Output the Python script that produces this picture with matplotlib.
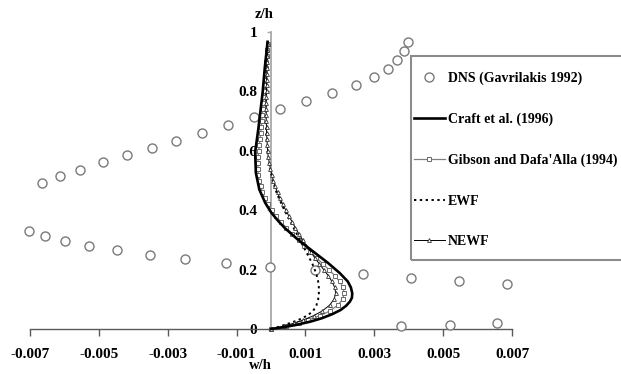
import matplotlib
matplotlib.use("Agg")
import matplotlib.pyplot as plt
from matplotlib.patches import Rectangle
import numpy as np

plt.rcParams['font.family'] = ['Liberation Serif', 'DejaVu Serif']
plt.rcParams['font.weight'] = 'bold'

# DNS data (Gavrilakis 1992): w/h (x1e-3) and z/h
dns_w = [-7.02, -6.57, -5.97, -5.28, -4.48, -3.52, -2.49, -1.31, -0.04, 1.29, 2.66, 4.07, 5.46, 6.85,
         3.77, 5.19, 6.55,
         -6.66, -6.13, -5.54, -4.87, -4.18, -3.47, -2.75, -1.99, -1.24, -0.50, 0.27, 1.02, 1.77, 2.47,
         3.00, 3.39, 3.66, 3.85, 3.97]
dns_z = [0.331, 0.312, 0.296, 0.280, 0.265, 0.249, 0.236, 0.221, 0.210, 0.197, 0.185, 0.171, 0.162, 0.151,
         0.011, 0.013, 0.019,
         0.492, 0.515, 0.535, 0.561, 0.586, 0.609, 0.634, 0.659, 0.686, 0.713, 0.740, 0.767, 0.794, 0.821,
         0.850, 0.877, 0.906, 0.936, 0.965]

# Craft et al. (1996)
craft_z = [0.0, 0.005, 0.013, 0.025, 0.036, 0.05, 0.064, 0.078, 0.092, 0.105, 0.12, 0.14, 0.16, 0.188,
           0.222, 0.256, 0.30, 0.34, 0.365, 0.39, 0.425, 0.47, 0.526, 0.596, 0.672, 0.74, 0.80, 0.88, 0.967]
craft_w = [0.0, 0.30, 0.70, 1.15, 1.47, 1.78, 2.02, 2.18, 2.29, 2.35, 2.36, 2.32, 2.23, 2.00,
           1.66, 1.28, 0.79, 0.40, 0.20, 0.02, -0.17, -0.34, -0.44, -0.46, -0.37, -0.30, -0.24, -0.18, -0.10]

# common grid for the other model profiles
model_z = [0.0, 0.01, 0.02, 0.03, 0.045, 0.06, 0.08, 0.10, 0.12, 0.14, 0.16, 0.18, 0.20, 0.22, 0.24,
           0.26, 0.28, 0.30, 0.32, 0.34, 0.36, 0.38, 0.40, 0.42, 0.44, 0.46, 0.48, 0.50, 0.52, 0.54,
           0.56, 0.58, 0.60, 0.62, 0.64, 0.66, 0.68, 0.70, 0.72, 0.74, 0.76, 0.78, 0.80, 0.82, 0.84,
           0.86, 0.88, 0.90, 0.92, 0.94, 0.96]

gibson_w = [0.0, 0.45, 0.80, 1.08, 1.42, 1.70, 1.94, 2.08, 2.13, 2.09, 1.99, 1.85, 1.68, 1.50, 1.32,
            1.14, 0.97, 0.80, 0.62, 0.45, 0.29, 0.15, 0.02, -0.09, -0.18, -0.25, -0.30, -0.34, -0.37, -0.38,
            -0.38, -0.37, -0.36, -0.34, -0.32, -0.30, -0.28, -0.27, -0.25, -0.24, -0.22, -0.21, -0.20, -0.19, -0.17,
            -0.16, -0.15, -0.14, -0.13, -0.12, -0.10]

newf_w = [0.0, 0.38, 0.68, 0.93, 1.24, 1.48, 1.70, 1.83, 1.88, 1.85, 1.77, 1.66, 1.53, 1.40, 1.27,
          1.15, 1.03, 0.92, 0.81, 0.71, 0.62, 0.52, 0.43, 0.34, 0.26, 0.19, 0.12, 0.07, 0.02, -0.02,
          -0.05, -0.08, -0.10, -0.11, -0.12, -0.13, -0.13, -0.14, -0.14, -0.14, -0.14, -0.14, -0.13, -0.13, -0.13,
          -0.12, -0.12, -0.12, -0.11, -0.11, -0.10]

ewf_z = [0.0, 0.01, 0.02, 0.03, 0.045, 0.06, 0.08, 0.10, 0.12, 0.14, 0.16, 0.18, 0.20, 0.22, 0.24,
         0.26, 0.28, 0.30, 0.32, 0.34, 0.36, 0.38, 0.40, 0.42, 0.44, 0.46, 0.48, 0.50, 0.54, 0.58,
         0.62, 0.66, 0.70, 0.75, 0.80, 0.85, 0.90, 0.96]
ewf_w = [0.0, 0.30, 0.55, 0.79, 1.05, 1.22, 1.32, 1.37, 1.39, 1.39, 1.37, 1.33, 1.27, 1.20, 1.11,
         1.02, 0.93, 0.84, 0.75, 0.66, 0.57, 0.48, 0.39, 0.31, 0.23, 0.16, 0.10, 0.05, -0.03, -0.09,
         -0.12, -0.14, -0.15, -0.15, -0.14, -0.13, -0.12, -0.10]

x_ticks = [-0.007, -0.005, -0.003, -0.001, 0.001, 0.003, 0.005, 0.007]
x_tick_labels = ["-0.007", "-0.005", "-0.003", "-0.001", "0.001", "0.003", "0.005", "0.007"]
y_ticks = [0, 0.2, 0.4, 0.6, 0.8, 1.0]
y_tick_labels = ["0", "0.2", "0.4", "0.6", "0.8", "1"]

scale = 1e-3

fig = plt.figure(figsize=(6.21, 3.74), dpi=100)
ax = fig.add_axes([30 / 621, 45 / 374, 482 / 621, 297 / 374])

ax.plot(np.array(dns_w) * scale, dns_z, 'o', ms=6.5, mfc='white', mec='#7a7a7a', mew=1.0,
        label='DNS (Gavrilakis 1992)', clip_on=False, zorder=3)
ax.plot(np.array(craft_w) * scale, craft_z, color='black', lw=1.9,
        label='Craft et al. (1996)', clip_on=False, zorder=5)
ax.plot(np.array(gibson_w) * scale, model_z, color='#808080', lw=0.9, marker='s', ms=2.4,
        mfc='white', mec='#6a6a6a', mew=0.7, label="Gibson and Dafa'Alla (1994)", clip_on=False, zorder=4)
ax.plot(np.array(ewf_w) * scale, ewf_z, color='black', lw=1.4, ls=(0, (1.2, 1.8)),
        label='EWF', clip_on=False, zorder=4)
ax.plot(np.array(newf_w) * scale, model_z, color='black', lw=0.7, marker='^', ms=2.8,
        mfc='white', mec='#333333', mew=0.6, label='NEWF', clip_on=False, zorder=4)

ax.set_xlim(-0.007, 0.007)
ax.set_ylim(0, 1)

ax.spines['top'].set_visible(False)
ax.spines['right'].set_visible(False)
ax.spines['left'].set_position(('data', 0))
ax.spines['left'].set_color('#a8a8a8')
ax.spines['left'].set_linewidth(1.3)
ax.spines['bottom'].set_color('#5a5a5a')
ax.spines['bottom'].set_linewidth(1.0)

ax.set_xticks(x_ticks)
ax.set_xticklabels(x_tick_labels)
ax.set_yticks(y_ticks)
ax.set_yticklabels(y_tick_labels)
ax.tick_params(axis='x', direction='out', length=5, width=1.0, color='#5a5a5a', pad=9, labelsize=11)
ax.tick_params(axis='y', direction='out', length=3, width=1.0, color='#a8a8a8', pad=7, labelsize=11)

ax.text(-0.0002, 1.06, 'z/h', ha='center', va='center', fontsize=10.5)
ax.text(-0.0003, -0.145, 'w/h', ha='center', va='bottom', fontsize=10.5)

ax.legend(loc='upper left', bbox_to_anchor=(414 / 621, (374 - 72) / 374), bbox_transform=fig.transFigure,
          frameon=False, handlelength=2.2, handletextpad=0.25, labelspacing=1.97, borderpad=0,
          borderaxespad=0, fontsize=10)
fig.add_artist(Rectangle((411 / 621, (374 - 260) / 374), 240 / 621, 204 / 374, transform=fig.transFigure,
                         fill=False, edgecolor='#8c8c8c', lw=1.5))

fig.savefig('out.png', dpi=100)
